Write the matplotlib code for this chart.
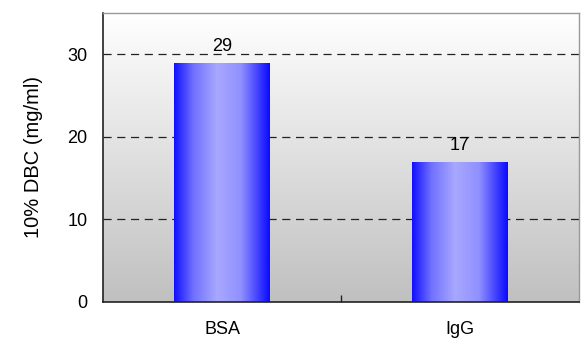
import numpy as np
import matplotlib.pyplot as plt
from matplotlib.colors import LinearSegmentedColormap

categories = ["BSA", "IgG"]
dbc_values = [29, 17]

plt.rcParams["font.family"] = ["Liberation Sans", "DejaVu Sans"]

fig = plt.figure(figsize=(5.84, 3.40), dpi=100)
ax = fig.add_axes([103 / 584, 38 / 340, 476 / 584, 289 / 340])

YMAX = 35
x = np.arange(len(categories))
ax.set_xlim(-0.5, len(categories) - 0.5)
ax.set_ylim(0, YMAX)

# vertical grey fade behind the plot
bg = LinearSegmentedColormap.from_list("bg", ["#c0c0c0", "#ffffff"])
ax.imshow(np.linspace(0, 1, 256).reshape(-1, 1), cmap=bg, aspect="auto",
          extent=(-0.5, len(categories) - 0.5, 0, YMAX), origin="lower",
          zorder=0)

for y in (10, 20, 30):
    ax.axhline(y, color="#222222", lw=0.9, ls=(0, (6.5, 4.5)), zorder=1)

# bars with a horizontal blue shine
shine = LinearSegmentedColormap.from_list(
    "shine", [(0, "#1010ff"), (0.2, "#7070ff"), (0.45, "#a8a8ff"),
              (0.7, "#9090ff"), (1, "#0a0aff")])
grad = np.linspace(0, 1, 256).reshape(1, -1)
bars = ax.bar(x, dbc_values, width=0.4, color="none", zorder=2)
for b, v in zip(bars, dbc_values):
    x0, w = b.get_x(), b.get_width()
    im = ax.imshow(grad, cmap=shine, aspect="auto",
                   extent=(x0, x0 + w, 0, v), zorder=2)
    im.set_clip_path(b)
    ax.text(x0 + w / 2, v + 1.4, str(v), ha="center", va="baseline",
            fontsize=13, zorder=3)

ax.set_xlim(-0.5, len(categories) - 0.5)
ax.set_ylim(0, YMAX)
ax.set_yticks([0, 10, 20, 30])
ax.tick_params(axis="y", length=0, labelsize=13, pad=11)
ax.set_xticks(x)
ax.set_xticklabels(categories, fontsize=13)
ax.tick_params(axis="x", length=0, pad=14)
# category divider tick on the bottom axis
ax.set_xticks([0.5], minor=True)
ax.tick_params(axis="x", which="minor", direction="in", length=5,
               width=1, color="#222222")
ax.set_ylabel("10% DBC (mg/ml)", fontsize=14.5, labelpad=18)

for side in ("left", "bottom"):
    ax.spines[side].set_color("#222222")
    ax.spines[side].set_linewidth(1.2)
for side in ("top", "right"):
    ax.spines[side].set_color("#999999")
    ax.spines[side].set_linewidth(1.0)

fig.savefig("out.png", dpi=100)
